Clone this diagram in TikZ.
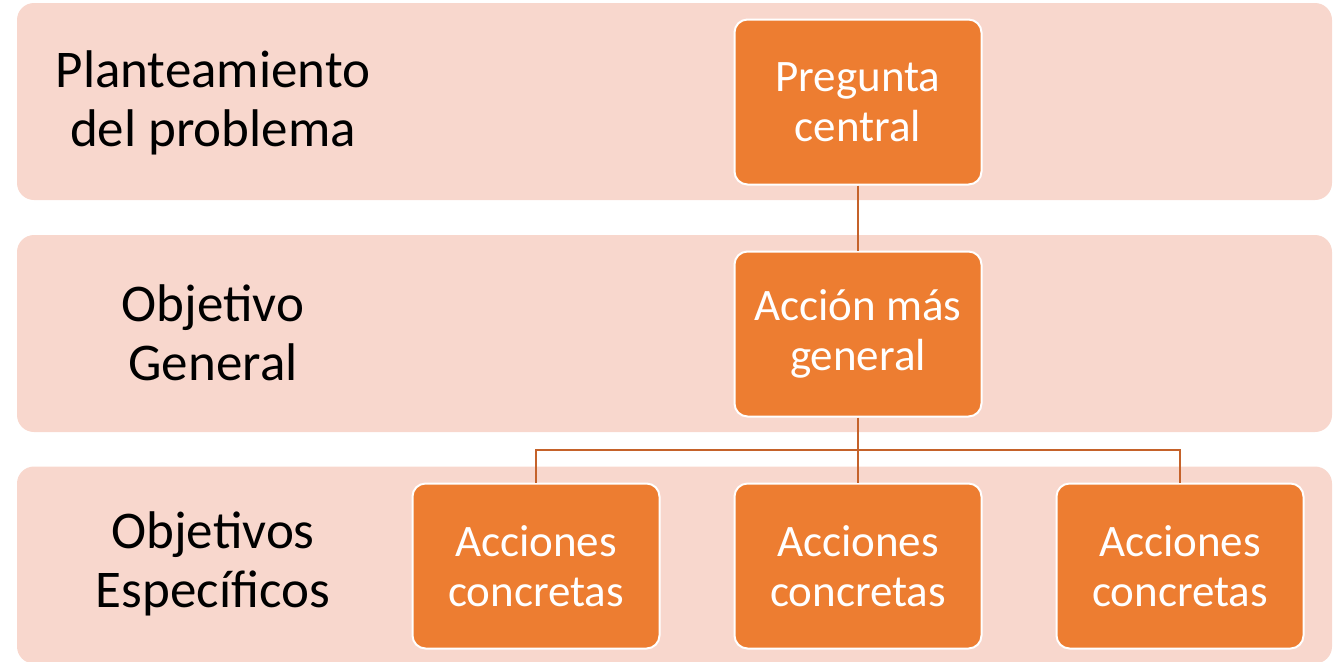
\documentclass[tikz,border=0pt]{standalone}
\usepackage{fontspec}
\setmainfont{Carlito}
\usepackage{xcolor}
\usetikzlibrary{positioning, calc}
\definecolor{bandfill}{HTML}{F8D7CD}
\definecolor{boxfill}{HTML}{ED7D31}
\definecolor{linecol}{HTML}{C5622A}
\tikzstyle{band} = [rectangle, fill=bandfill, rounded corners=8.5pt, minimum width=657.5pt, minimum height=98.5pt]
\tikzstyle{box} = [rectangle, draw=white, line width=1pt, fill=boxfill, text=white, align=center, rounded corners=6.5pt, minimum width=123.5pt, minimum height=82.5pt, inner sep=0pt, font=\fontsize{22.5}{25}\selectfont]
\tikzstyle{rowlabel} = [align=center, text=black, font=\fontsize{26.5}{29.5}\selectfont]
\tikzstyle{line} = [draw=linecol, line width=1.2pt]

\begin{document}
\begin{tikzpicture}[x=0.5pt, y=-0.5pt, node distance=32.5pt]
    \clip (0,0) rectangle (1343,661);
    % Bands
    \node (planband) [band] at (674.5,101.5) {};
    \node (genband) [band] at (674.5,333.5) {};
    \node (espband) [band] at (674.5,565) {};

    % Row labels
    \node (planlabel) [rowlabel] at (213,103) {Planteamiento\\del problema};
    \node (genlabel) [rowlabel] at (213,333) {Objetivo\\General};
    \node (esplabel) [rowlabel] at (213,564) {Objetivos\\Específicos};

    % Boxes
    \node (pregunta) [box] at (858,102) {Pregunta\\central};
    \node (accion) [box, below=of pregunta] {Acción más\\general};
    \node (acc2) [box, below=of accion] {Acciones\\concretas};
    \node (acc1) [box, left=36.5pt of acc2] {Acciones\\concretas};
    \node (acc3) [box, right=36.5pt of acc2] {Acciones\\concretas};

    % Connectors
    \coordinate (split) at ($(accion.south)!0.5!(acc2.north)$);
    \draw [line] (pregunta) -- (accion);
    \draw [line] (accion) -- (acc2);
    \draw [line] (acc1.north) |- (split) -| (acc3.north);
\end{tikzpicture}
\end{document}
